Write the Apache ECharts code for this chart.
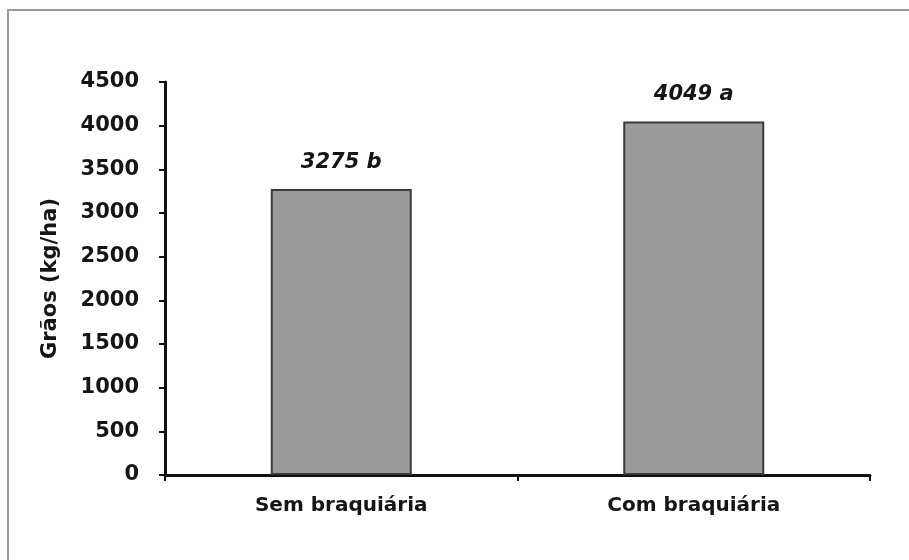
<!DOCTYPE html>
<html>
<head>
<meta charset="utf-8">
<script src="https://cdn.jsdelivr.net/npm/echarts@6/dist/echarts.min.js"></script>
<style>
html,body{margin:0;padding:0;background:#fff;}
#chart{width:909px;height:560px;}
</style>
</head>
<body>
<div id="chart"></div>
<script>
const categories=['Sem braquiária','Com braquiária'];
const grainYield=[3275,4049];
const letters=['b','a'];

const FONT='DejaVu Sans';
const chart=echarts.init(document.getElementById('chart'));

const option={
    animation:false,
    backgroundColor:'#ffffff',
    // frame of the scanned figure: only left and top edges are visible
    graphic:[{
        type:'polyline',
        shape:{points:[[8,560],[8,10],[912,10]]},
        style:{fill:'none',stroke:'#9a9a9a',lineWidth:2}
    }],
    grid:{left:165,right:39,top:82,bottom:85},
    xAxis:{
        type:'category',
        data:categories,
        boundaryGap:true,
        axisLine:{lineStyle:{color:'#111',width:3}},
        axisTick:{show:true,length:6,inside:false,lineStyle:{color:'#111',width:2}},
        axisLabel:{margin:21,color:'#151515',fontFamily:FONT,fontWeight:'bold',fontSize:20}
    },
    yAxis:{
        type:'value',
        min:0,max:4500,interval:500,
        name:'Grãos (kg/ha)',
        nameLocation:'middle',
        nameGap:104,
        nameTextStyle:{color:'#151515',fontFamily:FONT,fontWeight:'bold',fontSize:21},
        splitLine:{show:false},
        axisLine:{show:true,lineStyle:{color:'#111',width:3}},
        axisTick:{show:true,length:6,inside:false,lineStyle:{color:'#111',width:2}},
        axisLabel:{margin:26,color:'#151515',fontFamily:FONT,fontWeight:'bold',fontSize:21,formatter:v=>String(v)}
    },
    series:[{
        type:'bar',
        data:grainYield,
        barWidth:'40%',
        itemStyle:{color:'#9b9b9b',borderColor:'#3a3a3a',borderWidth:2},
        label:{
            show:true,
            position:'top',
            distance:16,
            color:'#151515',
            fontFamily:FONT,
            fontWeight:'bold',
            fontStyle:'italic',
            fontSize:21,
            formatter:p=>p.value+' '+letters[p.dataIndex]
        }
    }]
};
chart.setOption(option);
</script>
</body>
</html>
